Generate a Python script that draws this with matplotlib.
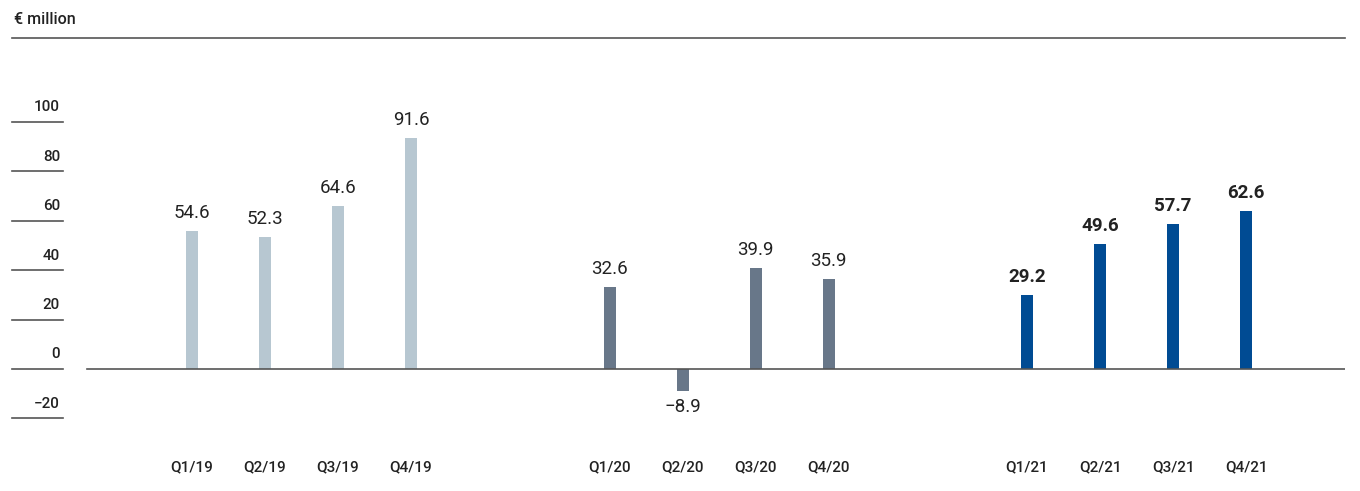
import numpy as np
import matplotlib.pyplot as plt

# data (EUR million per quarter)
quarters = ['Q1/19', 'Q2/19', 'Q3/19', 'Q4/19',
            'Q1/20', 'Q2/20', 'Q3/20', 'Q4/20',
            'Q1/21', 'Q2/21', 'Q3/21', 'Q4/21']
values_19 = [54.6, 52.3, 64.6, 91.6]
values_20 = [32.6, -8.9, 39.9, 35.9]
values_21 = [29.2, 49.6, 57.7, 62.6]
yticks = [100, 80, 60, 40, 20, 0, -20]
unit_label = '€ million'

colors = ['#b7c7d1', '#687789', '#004b93']
label_weights = ['normal', 'normal', 'bold']
line_col = '#555555'
text_col = '#222222'

plt.rcParams['font.family'] = ['Roboto', 'DejaVu Sans']

px_per_unit = 2.52      # bar scale
tick_scale = 2.47 / px_per_unit  # the gridline ruler in the original is a bit tighter

fig = plt.figure(figsize=(13.6, 4.91), dpi=100)
ax = fig.add_axes([12 / 1360, 0, 1333 / 1360, 1 - 38 / 491])
ax.set_xlim((12 - 192) / 73, (1345 - 192) / 73)
ax.set_ylim(-(491 - 369) / px_per_unit, (369 - 38) / px_per_unit)
ax.axis('off')

group_gap = 5.72
bar_w = 0.165
groups = [values_19, values_20, values_21]
for g, vals in enumerate(groups):
    xs = g * group_gap + np.arange(len(vals))
    ax.bar(xs, vals, width=bar_w, color=colors[g], zorder=2)
    for x, v, q in zip(xs, vals, quarters[g * 4:(g + 1) * 4]):
        if v >= 0:
            ax.annotate(f'{v:.1f}', (x, v), xytext=(0, 6.5), textcoords='offset points',
                        ha='center', va='bottom', fontsize=13.5, color=text_col,
                        fontweight=label_weights[g])
        else:
            ax.annotate(f'\u2212{abs(v):.1f}', (x, v), xytext=(0, -5), textcoords='offset points',
                        ha='center', va='top', fontsize=13.5, color=text_col,
                        fontweight=label_weights[g])
        ax.text(x, (491 - 467) / 453, q, transform=ax.get_xaxis_transform(),
                ha='center', va='center', fontsize=11, fontweight='medium', color=text_col)

# zero line
ax.axhline(0, xmin=75 / 1333, xmax=1, color=line_col, lw=1.2, zorder=3)
# top rule
ax.axhline(ax.get_ylim()[1], color=line_col, lw=1.2, clip_on=False)

# y tick lines and labels on the left
ytr = ax.get_yaxis_transform()
for t in yticks:
    ty = t * tick_scale
    ax.plot([0, 51 / 1333], [ty, ty], transform=ytr, color=line_col, lw=1.2, clip_on=False)
    lab = str(t) if t >= 0 else f'\u2212{abs(t)}'
    ax.annotate(lab, (48 / 1333, ty), xycoords=ytr, xytext=(0, 10.5), textcoords='offset points',
                ha='right', va='center', fontsize=11, fontweight='medium', color=text_col)

fig.text(14 / 1360, 1 - 20 / 491, unit_label, ha='left', va='center',
         fontsize=11.5, fontweight='medium', color=text_col)

fig.savefig('out.png', dpi=100)
